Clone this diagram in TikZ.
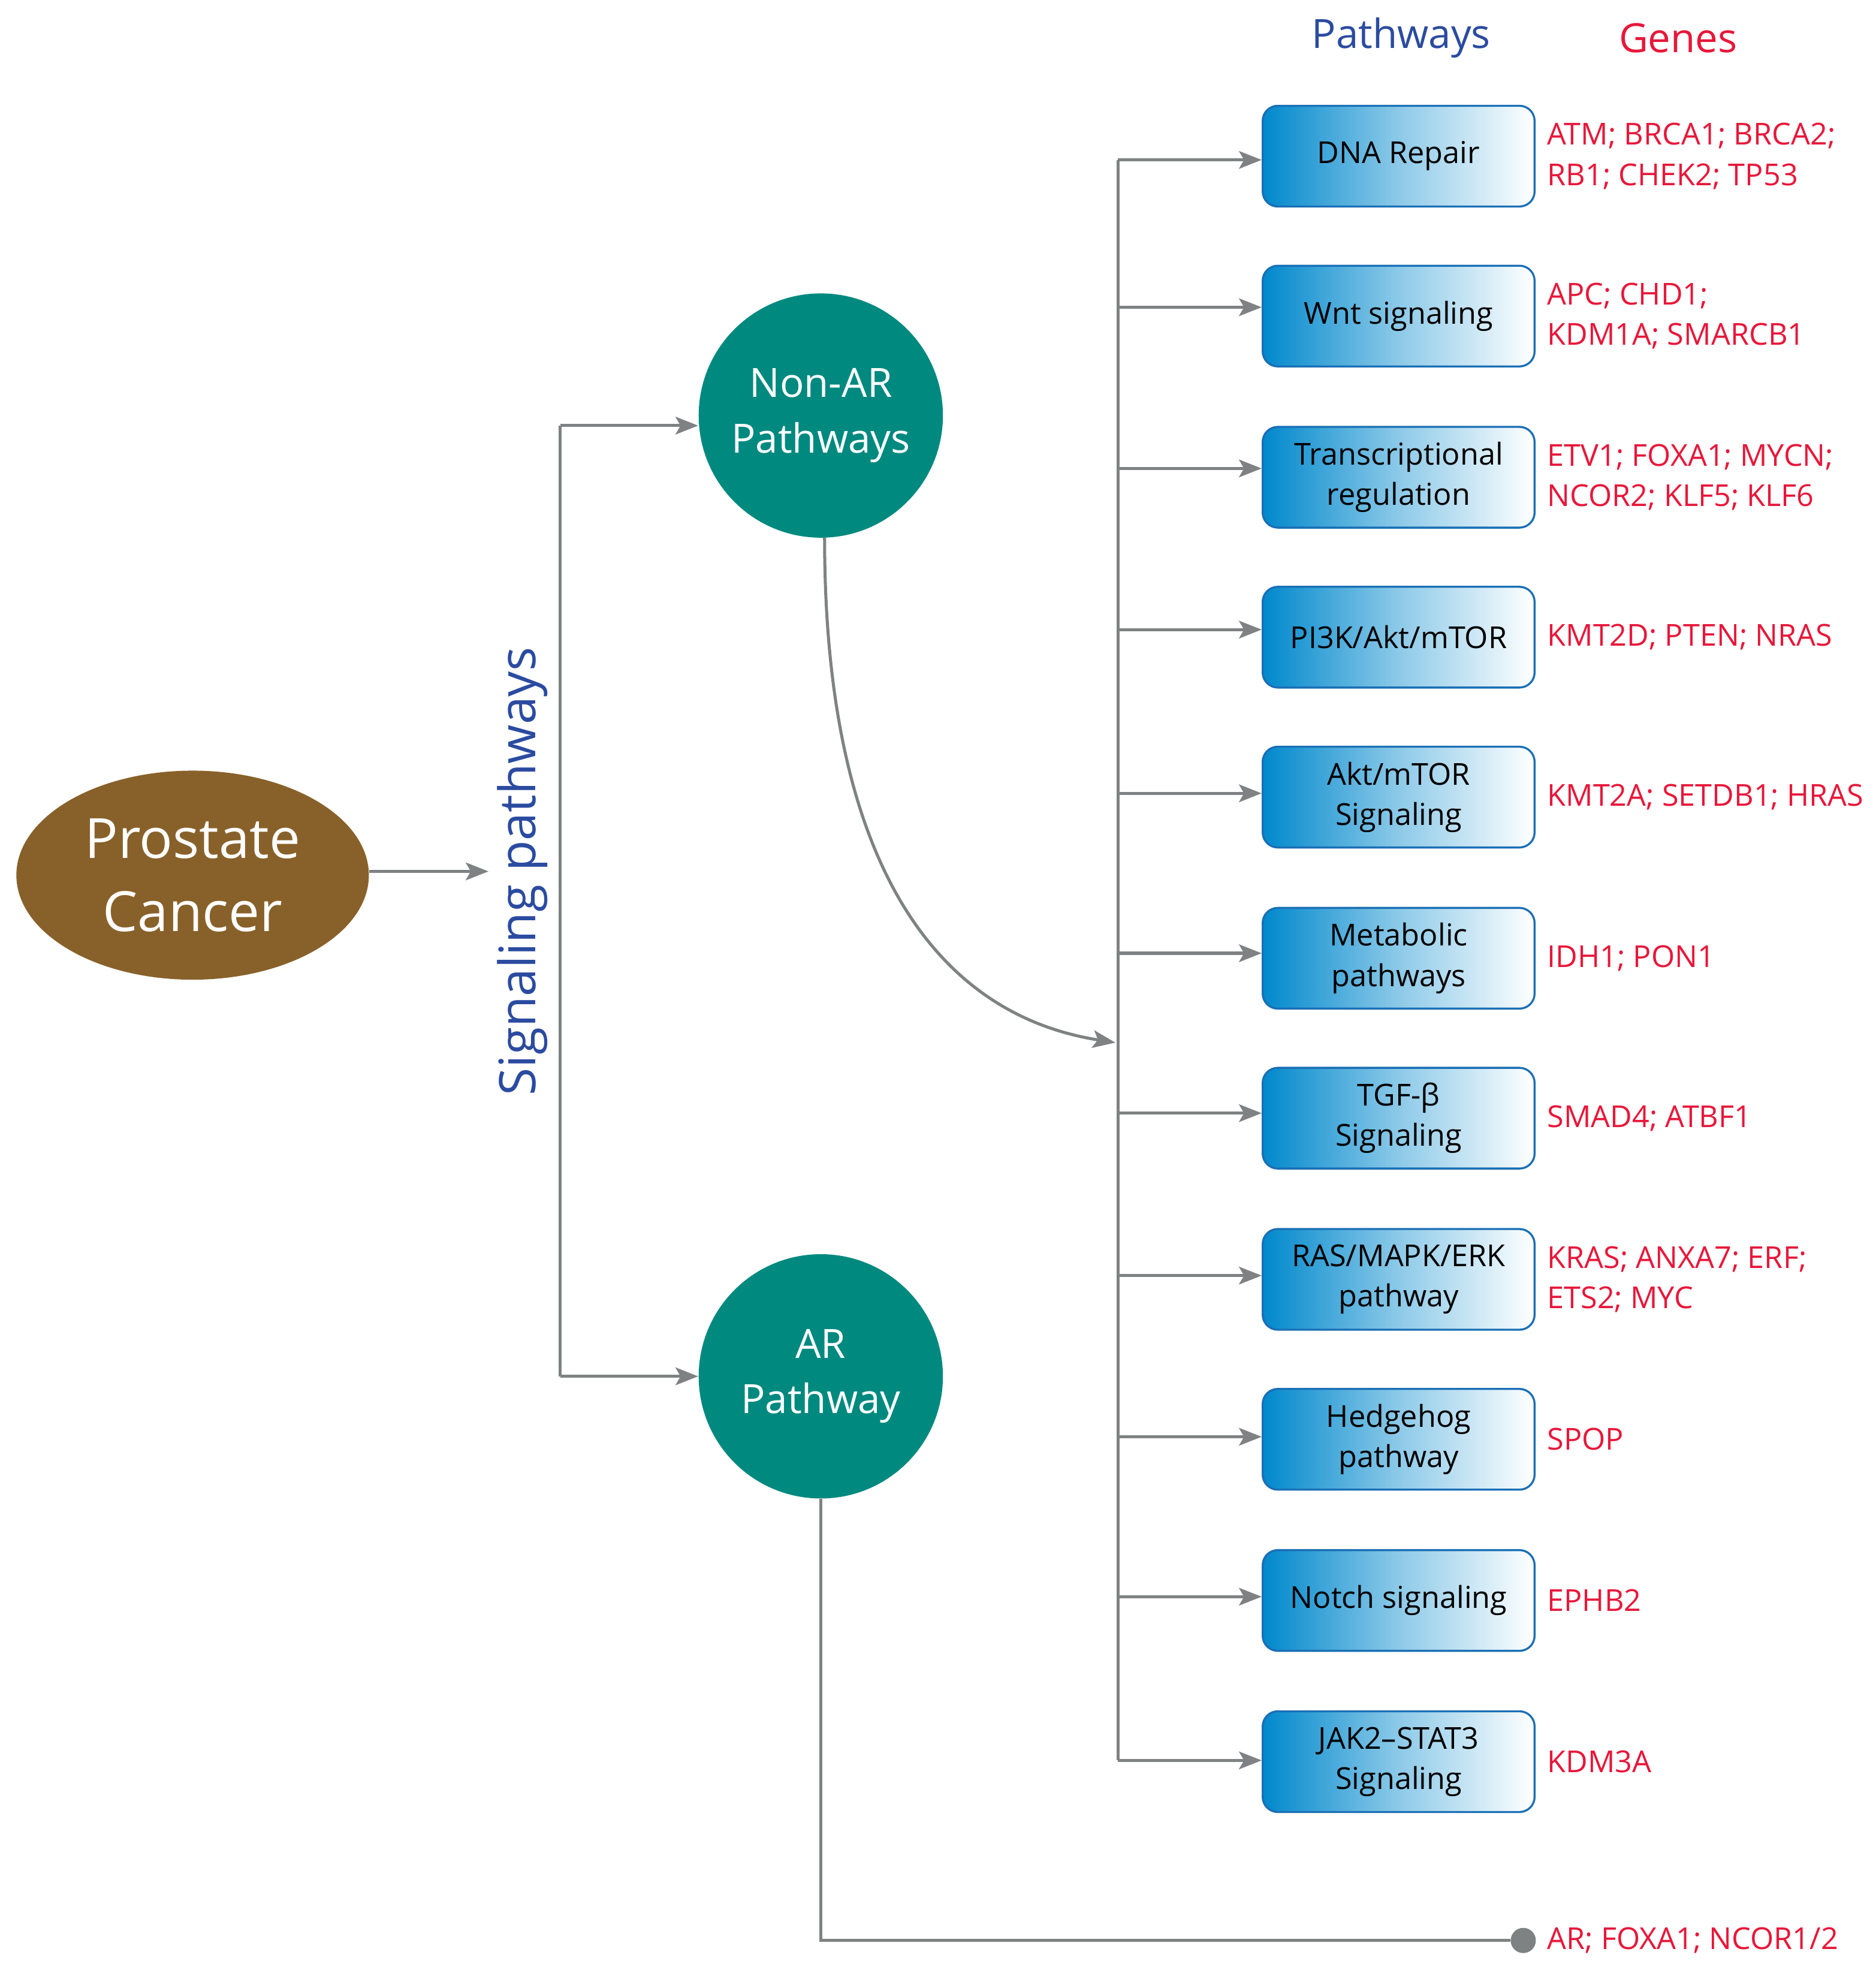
\documentclass[tikz,border=0pt]{standalone}
\usepackage{fontspec}
\setmainfont{Open Sans}
\usetikzlibrary{arrows.meta,shapes.geometric}
\definecolor{brownc}{HTML}{88612A}
\definecolor{tealc}{HTML}{00897F}
\definecolor{bluet}{HTML}{2B4BA0}
\definecolor{redt}{HTML}{E8173A}
\definecolor{boxb}{HTML}{0088CC}
\definecolor{boxd}{HTML}{1A6FB5}
\definecolor{grayl}{HTML}{7F8282}
\begin{document}
\begin{tikzpicture}[x=0.5pt,y=-0.5pt,
 conn/.style={draw=grayl,line width=1.2pt},
 arr/.style={conn,-{Stealth[length=9pt,width=7pt,inset=2pt]}},
 box/.style={draw=boxd,line width=0.8pt,rounded corners=6pt,minimum width=108pt,minimum height=40pt,
   left color=boxb,right color=white,middle color=boxb!45,shading angle=90,align=center,font=\fontsize{12}{16}\selectfont,text=black},
 gene/.style={anchor=west,text=redt,align=left,font=\fontsize{12}{16}\selectfont},
 circ/.style={circle,fill=tealc,minimum size=97pt,text=white,align=center,font=\fontsize{16}{22}\selectfont,inner sep=0pt}]
\useasboundingbox (0,0) rectangle (1490,1574);
\node[text=bluet,font=\fontsize{16}{20}\selectfont] (hp) at (1113,30) {Pathways};
\node[text=redt,font=\fontsize{16}{20}\selectfont] (hg) at (1333,30) {Genes};
\node[ellipse,fill=brownc,minimum width=140pt,minimum height=83pt,inner sep=0pt,text=white,align=center,font=\fontsize{22}{29}\selectfont] (pc) at (153,695) {Prostate\\Cancer};
\coordinate (sa) at (388,692);
\draw[arr] (pc.east|-sa) -- (sa);
\node[rotate=90,text=bluet,font=\fontsize{20}{24}\selectfont] (sp) at (415,692) {Signaling pathways};
\node[circ] (nar) at (652,330) {Non-AR\\Pathways};
\node[circ] (ar) at (652,1093) {AR\\Pathway};
\coordinate (v1) at (445,338); \coordinate (v2) at (445,1093);
\draw[conn] (v1) -- (v2);
\draw[arr] (v1) -- (nar.west|-v1);
\draw[arr] (v2) -- (ar.west);
\coordinate (t1) at (888,127); \coordinate (t2) at (888,1398); \coordinate (mid) at (886,828);
\draw[conn] (t1) -- (t2);
\draw[arr] (655,427) .. controls (655,680) and (740,805) .. (mid);
\foreach \y/\ay/\n/\t/\g in {
 124/127/b1/{DNA Repair}/{ATM; BRCA1; BRCA2;\\RB1; CHEK2; TP53},
 251/244/b2/{Wnt signaling}/{APC; CHD1;\\KDM1A; SMARCB1},
 379/372/b3/{Transcriptional\\regulation}/{ETV1; FOXA1; MYCN;\\NCOR2; KLF5; KLF6},
 506/500/b4/{PI3K/Akt/mTOR}/{KMT2D; PTEN; NRAS},
 633/630/b5/{Akt/mTOR\\Signaling}/{KMT2A; SETDB1; HRAS},
 761/757/b6/{Metabolic\\pathways}/{IDH1; PON1},
 888/884/b7/{TGF-β\\Signaling}/{SMAD4; ATBF1},
 1016/1013/b8/{RAS/MAPK/ERK\\pathway}/{KRAS; ANXA7; ERF;\\ETS2; MYC},
 1143/1141/b9/{Hedgehog\\pathway}/{SPOP},
 1271/1268/b10/{Notch signaling}/{EPHB2},
 1399/1398/b11/{JAK2–STAT3\\Signaling}/{KDM3A}}{
 \node[box] (\n) at (1111,\y) {\t};
 \node[gene] (g\n) at (1222,\y) {\g};
 \draw[arr] (888,\ay) -- (\n.west|-{(0,\ay)});
}
\coordinate (arb) at (650,1541);
\node[circle,fill=grayl,minimum size=10pt,inner sep=0pt] (dot) at (1210,1541) {};
\draw[conn] (ar.south) -- (ar.south|-arb) -- (dot);
\node[gene] (garl) at (1222,1541) {AR; FOXA1; NCOR1/2};
\end{tikzpicture}
\end{document}
